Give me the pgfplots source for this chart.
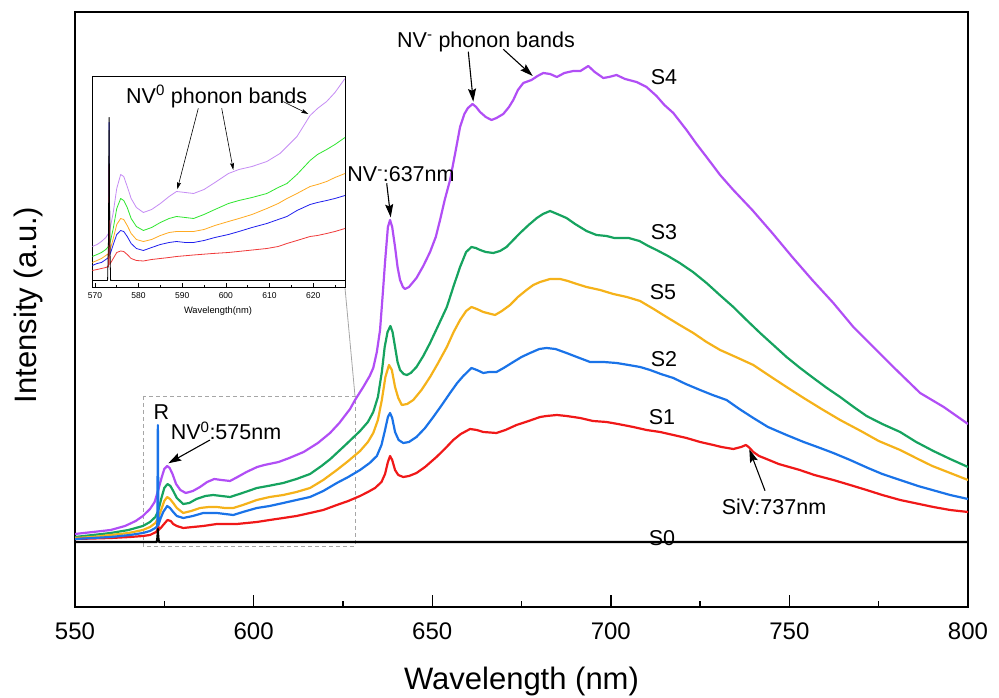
\documentclass[border=0pt]{standalone}
\usepackage{pgfplots}
\pgfplotsset{compat=1.18}
\usepackage{fontspec}
\setmainfont{Liberation Sans}
\usetikzlibrary{arrows.meta}
\definecolor{cS4}{HTML}{B14EF5}
\definecolor{cS3}{HTML}{16A35F}
\definecolor{cS5}{HTML}{F5B21A}
\definecolor{cS2}{HTML}{1A73E8}
\definecolor{cS1}{HTML}{F01818}
\definecolor{iS4}{HTML}{C58CF5}
\definecolor{iS3}{HTML}{2EE62E}
\definecolor{iS5}{HTML}{FFAA22}
\definecolor{iS2}{HTML}{1F1FEE}
\definecolor{iS1}{HTML}{F03A3A}
\newcommand\annfont{\fontsize{21.5}{25}\selectfont}
\begin{document}
\begin{tikzpicture}
\useasboundingbox (0,0) rectangle (999pt,698pt);
\begin{scope}[x=1pt,y=-1pt,yshift=698pt]
\draw[gray!70, line width=0.8pt, dash pattern=on 4pt off 3pt] (143.3,396) rectangle (355,546);
\draw[gray!70, line width=0.8pt] (345,288) -- (355,396);
\end{scope}
\begin{axis}[
  at={(75pt,91pt)}, anchor=south west, width=893pt, height=595pt, scale only axis,
  xmin=550, xmax=800, ymin=-65, ymax=530,
  xtick={550,600,...,800}, minor xtick={575,625,...,775},
  xtick pos=bottom, ytick=\empty,
  tick align=inside, major tick length=12pt, minor tick length=6pt,
  axis line style={line width=1.6pt},
  every tick/.style={black, line width=1.4pt},
  /pgf/number format/assume math mode=true,
  /pgf/number format/1000 sep={},
  xticklabel style={font=\fontsize{24}{28}\selectfont, anchor=base, yshift=-33pt},
  every axis plot/.append style={line width=2.2pt, line join=round},
]
\addplot[cS4] coordinates {(550,8)(555,10)(560,12)(564,16)(567,21)(569,26)(571,33)(572.3,40)(573.3,52)(574.3,65)(575,73)(575.8,76)(576.5,74)(577.3,68)(578.3,58)(579.5,52)(581,49)(583,51)(585,55)(587,60)(589,63)(591,62)(593.4,61)(595.5,65)(598,70)(601,75)(603,77)(607,80)(610,84)(614,90)(618,99)(621.4,109)(624,119)(627,133)(628.4,142)(630.7,155)(632.5,166)(633.5,174)(634.5,190)(635.4,212)(636.2,250)(636.8,280)(637.6,315)(638.2,322)(638.8,315)(639.6,295)(640.3,275)(641,262)(641.8,255)(642.4,253)(643.5,255)(645.6,264)(647.5,276)(649.4,290)(651,305)(652.2,322)(653.5,342)(655,362)(656.5,390)(657.8,415)(659,428)(660,434)(661.3,438)(662.3,435)(663.4,430)(665,425)(666.6,422)(668,424)(669.9,428)(671.5,435)(672.7,442)(674,452)(675.5,459)(677.8,462)(679.5,466)(681.1,469)(683,468)(684.9,465)(687,469)(689.5,471)(691.5,471)(693.7,476)(695.5,470)(697.9,464)(699.5,465)(701.6,467)(704,463)(707.2,460)(710,455)(712.8,446)(715,437)(717.5,429)(721.2,412)(724,398)(726.8,385)(730.6,367)(734.3,352)(739.6,332)(745.2,309)(750.8,285)(756.4,262)(762.3,239)(767.9,215)(773.5,195)(779.1,175)(786.6,149)(793.2,135)(800,118)};
\addplot[cS3] coordinates {(550,5)(555,7)(560,9)(565,12)(569,16)(571,20)(572.5,25)(573.3,31)(574.2,44)(575,54)(575.9,58)(576.7,56)(577.5,51)(578.5,44)(580.3,38)(582,39)(584,43)(586.5,46)(588.7,47)(591,46)(593.4,45)(596,48)(598.5,51)(600.9,54)(604,56)(608.3,59)(612,63)(615.8,68)(619,76)(621.5,83)(623.3,89)(626,98)(629.8,111)(632,120)(633.5,130)(634.8,145)(635.9,170)(636.7,195)(637.5,210)(638.3,216)(638.9,210)(639.6,195)(640.3,180)(641,172)(642,168)(642.9,167)(644,169)(645.6,175)(647.5,186)(649.4,199)(651.5,215)(654.1,235)(656,256)(657.8,275)(659.5,290)(661,295)(662.2,294)(663.4,292)(665,290)(667.1,289)(669,291)(670.8,295)(672.7,302)(674.6,309)(677,317)(679.3,324)(681,328)(683,331)(685,328)(687.6,324)(690,318)(693.2,311)(696,307)(698.8,306)(701,304)(705,304)(708,301)(710.5,296)(712.8,292)(716,286)(719.3,279)(723,270)(726.8,259)(730.5,247)(734.3,235)(738,222)(741.8,209)(745.5,197)(749.2,185)(753,174)(756.7,164)(760.5,154)(764.2,145)(768,135)(771.6,126)(776,118)(781,110)(785.5,100)(790.3,91)(795,83)(800,75)};
\addplot[cS5] coordinates {(550,4)(555,5)(560,7)(565,9)(569,12)(571,15)(572.5,19)(573.3,24)(574.2,33)(575,41)(575.8,45)(576.6,43)(577.5,39)(578.5,34)(580.3,29)(582.5,31)(585,34)(587.5,35)(589.7,35)(592,34)(594.3,34)(597,37)(600.9,42)(604.5,45)(608.3,47)(612,50)(615.8,54)(619.5,62)(623.3,72)(626.5,81)(629.8,91)(632,100)(633.5,109)(634.8,122)(635.9,142)(636.9,165)(637.9,177)(638.7,172)(639.6,155)(640.5,144)(641.5,137)(643,138)(644.7,142)(647,152)(649.4,165)(651.5,178)(654.1,195)(656,210)(657.8,222)(659.5,231)(661,235)(662.5,233)(664.3,230)(667.6,227)(669.5,231)(671.8,237)(674,245)(676.4,252)(678.3,257)(680.2,260)(683,263)(685.8,263)(688,261)(690.5,258)(693.2,255)(697,252)(700.7,248)(704.5,245)(708.2,241)(712,233)(715.6,225)(719.3,217)(723.1,209)(726.8,200)(730.6,192)(735,185)(739.9,177)(744.5,166)(749.2,155)(754,144)(759,133)(764.2,122)(770,111)(775,101)(781,92)(786,83)(790,76)(795,69)(800,62)};
\addplot[cS1] coordinates {(550,3)(555,3.5)(560,4)(565.4,5)(569,6)(571,7)(572.7,10)(573.1,12)(573.25,22)(573.4,12)(574,14)(574.7,17)(575.9,22)(576.8,21)(577.5,18)(578.5,16)(580.3,14)(583,15)(585.9,16)(589.7,18)(595.3,18)(600.9,20)(604.5,22)(608.3,24)(612,26)(615.8,29)(619.5,32)(623.3,37)(626.5,41)(629.8,46)(632,50)(634,54)(635.8,60)(636.8,68)(637.6,80)(638.2,86)(638.8,82)(639.6,72)(640.5,67)(641.9,65)(643.5,66)(645.6,69)(648,75)(651.2,85)(653.5,93)(655.9,102)(658,108)(660.6,113)(662.5,112)(664.3,110)(668,109)(670.5,112)(673.6,117)(677,121)(680.2,125)(682,126)(684.9,127)(687.6,126)(691.4,124)(695,121)(698.8,120)(702,118)(706.3,115)(710,112)(713.8,110)(717.5,107)(721.2,104)(725,100)(728.7,97)(731,95)(734.3,93)(736.5,95)(737.8,97)(738.6,95)(739.9,90)(741.5,86)(743.6,83)(747,78)(752.9,72)(757,67)(762.3,62)(767,57)(771.6,52)(776,47)(781,42)(785,39)(790.3,35)(795,32)(800,30)};
\addplot[cS2] coordinates {(550,3)(555,4)(560,5)(565.4,7)(569,9)(571,11)(572.5,14)(573.05,16)(573.2,117)(573.35,17)(574,24)(574.7,30)(575.8,36)(576.6,34)(577.5,30)(578.5,26)(580.3,24)(583,26)(585.9,29)(589.7,29)(592,28)(594.3,27)(597,30)(600.9,34)(604.5,36)(608.3,39)(612,42)(615.8,45)(619.5,51)(623.3,59)(626.5,65)(629.8,72)(632.5,79)(634.5,86)(635.8,97)(636.8,112)(637.6,125)(638.2,129)(638.8,124)(639.6,110)(640.6,102)(641.9,99)(643.5,100)(645.6,105)(648,114)(650.3,125)(652.5,136)(655,149)(657,159)(658.7,166)(661,174)(662.5,172)(664.3,169)(666,170)(668,170)(670,174)(672.7,180)(675,185)(677.4,189)(680,193)(682,194)(684.5,193)(687.6,189)(690.5,185)(694.2,180)(698,180)(701.6,179)(705,177)(708.2,175)(711,172)(714,168)(717.5,164)(721,158)(725,152)(728.5,147)(732.4,142)(736,133)(739.9,124)(744,115)(749.2,107)(754,100)(758.6,94)(762.3,89)(767,82)(772,74)(776,68)(781,62)(786,56)(790,52)(795,47)(800,43)};
\addplot[black] coordinates {(550,0)(572.9,0)(573.1,5)(573.2,13)(573.3,5)(573.5,0)(800,0)};
\end{axis}
\begin{axis}[
  at={(92.3pt,410.5pt)}, anchor=south west, width=252.7pt, height=211.5pt, scale only axis,
  xmin=569.4, xmax=627.3, ymin=-7, ymax=204.5,
  xtick={570,580,...,620}, minor xtick={575,585,...,625},
  xtick pos=bottom, ytick=\empty,
  tick align=inside, major tick length=4pt, minor tick length=2pt,
  axis line style={line width=0.9pt},
  every tick/.style={black, line width=0.6pt},
  axis background/.style={fill=white},
  /pgf/number format/assume math mode=true,
  /pgf/number format/1000 sep={},
  xticklabel style={font=\fontsize{8.5}{10}\selectfont, anchor=base, yshift=-11pt},
  every axis plot/.append style={line width=0.8pt, line join=round},
]
\addplot[iS4] coordinates {(569.4,34)(570.5,36)(571.5,39)(572.5,43)(573.1,47)(573.25,150)(573.4,50)(574.2,68)(575,92)(575.9,106)(576.6,104)(577.4,94)(578.3,82)(579.5,73)(581.1,68)(583,71)(585,77)(587,84)(588.7,89)(590.7,88)(592.6,87)(595,91)(597.5,98)(600.6,107)(603,111)(606,114)(609.4,119)(612.4,127)(614,134)(616.3,144)(619.3,165)(621,172)(623.1,179)(625,188)(627.3,202)};
\addplot[iS3] coordinates {(569.4,24)(570.5,26)(571.5,28)(572.5,31)(573.1,34)(573.25,150)(573.4,36)(574.2,52)(575,72)(575.9,82)(576.6,80)(577.4,73)(578.3,62)(579.5,54)(581.1,50)(583,53)(585,58)(587,62)(588.7,64)(590.7,63)(592.6,62)(595,66)(597.5,71)(600.6,77)(603,80)(606,83)(609.4,87)(612,93)(614,97)(616.3,106)(619.3,120)(621,126)(623.1,131)(625,136)(627.3,143)};
\addplot[iS5] coordinates {(569.4,18)(570.5,20)(571.5,22)(572.5,25)(573.1,27)(573.25,150)(573.4,29)(574.2,42)(575,56)(575.9,62)(576.6,61)(577.4,55)(578.3,47)(579.5,41)(581.1,39)(583,41)(585,45)(587,48)(588.7,49)(590.7,49)(592.6,49)(595,51)(597.5,55)(600.6,59)(603,62)(606,66)(609.4,72)(612,77)(614,82)(616.3,87)(619.3,94)(621,96)(623.1,99)(625,103)(627.3,107)};
\addplot[iS2] coordinates {(569.4,15)(570.5,17)(571.5,18)(572.5,21)(573.1,23)(573.25,158)(573.4,25)(574.2,36)(575,46)(575.9,50)(576.6,49)(577.4,44)(578.3,37)(579.5,32)(581.1,30)(583,33)(585,36)(587,38)(588.7,39)(590.7,38)(592.6,38)(595,40)(597.5,43)(600.6,46)(603,49)(606,53)(609.4,57)(612,61)(614,64)(616.3,70)(619.3,76)(621,78)(623.1,80)(625,82)(627.3,85)};
\addplot[iS1] coordinates {(569.4,10)(570.5,11)(571.5,12)(572.5,13)(573.1,14)(573.25,115)(573.4,16)(574.2,22)(575,28)(575.9,29.5)(576.6,29)(577.4,26)(578.3,22)(579.5,20)(581.1,19.5)(583,21)(585,22)(587,23)(588.7,24)(592.6,25.5)(597,27)(600.6,28)(605,30)(609.4,32)(612,34)(614,37)(616.3,40)(619.3,44)(621,45)(623.1,47)(625,49)(627.3,52)};
\addplot[black] coordinates {(569.4,0)(572.9,0)(573.1,40)(573.25,163)(573.4,40)(573.6,0)(627.3,0)};
\end{axis}
\begin{scope}[x=1pt,y=-1pt,yshift=698pt]
\tikzset{arr/.style={line width=1.1pt, -{Stealth[length=13pt,width=8pt,inset=2pt]}},
         iarr/.style={line width=0.6pt, -{Stealth[length=7pt,width=4pt,inset=1pt]}}}
\node[anchor=base, font=\annfont] at (664,85) {S4};
\node[anchor=base, font=\annfont] at (664,240) {S3};
\node[anchor=base, font=\annfont] at (663,300) {S5};
\node[anchor=base, font=\annfont] at (664,366.7) {S2};
\node[anchor=base, font=\annfont] at (662,425) {S1};
\node[anchor=base, font=\annfont] at (662,546) {S0};
\node[anchor=base, font=\annfont] at (486,47.5) {NV\textsuperscript{-} phonon bands};
\node[anchor=base, font=\annfont] at (401,181.7) {NV\textsuperscript{-}:637nm};
\node[anchor=base, font=\annfont] at (161.5,419.3) {R};
\node[anchor=base, font=\annfont] at (226,440) {NV\textsuperscript{0}:575nm};
\node[anchor=base, font=\annfont] at (774,515) {SiV:737nm};
\node[anchor=base, font=\annfont] at (216.7,103.3) {NV\textsuperscript{0} phonon bands};
\node[anchor=base, font=\fontsize{9.3}{11}\selectfont] at (218,313.3) {Wavelength(nm)};
\node[anchor=base, font=\fontsize{31}{36}\selectfont] at (521.5,690) {Wavelength (nm)};
\node[anchor=base, rotate=90, font=\fontsize{31}{36}\selectfont] at (36.7,305) {Intensity (a.u.)};
\draw[arr] (468.3,51.7) -- (473.3,101.7);
\draw[arr] (503.3,49.3) -- (532.7,76);
\draw[arr] (386.7,183.3) -- (390.7,217.3);
\draw[arr] (210,440) -- (168.3,463.3);
\draw[arr] (765,490.7) -- (749.3,449.3);
\draw[iarr] (198.3,108.3) -- (177.3,189.3);
\draw[iarr] (221.7,108.3) -- (233.3,170);
\draw[iarr] (283.3,101.7) -- (308.3,114);
\end{scope}
\end{tikzpicture}
\end{document}
